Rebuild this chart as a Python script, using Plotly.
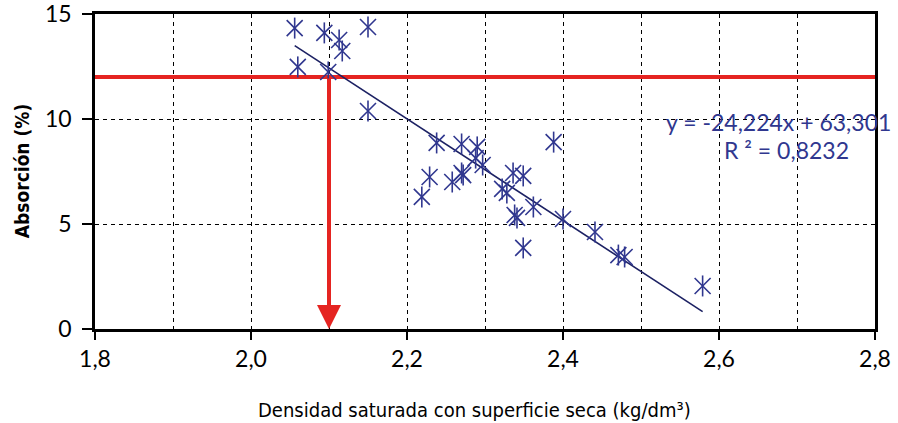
import plotly.graph_objects as go

# Data
densidad = [2.056, 2.094, 2.113, 2.117, 2.150, 2.060, 2.099, 2.150,
            2.238, 2.270, 2.290, 2.288, 2.297, 2.270, 2.272, 2.229,
            2.258, 2.219, 2.336, 2.349, 2.322, 2.328, 2.338, 2.341,
            2.362, 2.400, 2.349, 2.388, 2.441, 2.471, 2.479, 2.579]
absorcion = [14.33, 14.10, 13.76, 13.24, 14.38, 12.48, 12.24, 10.38,
             8.86, 8.81, 8.67, 8.14, 7.81, 7.43, 7.33, 7.24,
             7.00, 6.29, 7.43, 7.29, 6.67, 6.48, 5.43, 5.29,
             5.81, 5.24, 3.86, 8.90, 4.62, 3.52, 3.43, 2.05]

slope = -24.224
intercept = 63.301
r2_text = "R ² = 0,8232"
eq_text = "y = -24,224x + 63,301"

threshold_abs = 12      # red horizontal line
read_density = 2.1      # red arrow position

x_range = [1.8, 2.8]
y_range = [0, 15]

x_title = "Densidad saturada con superficie seca (kg/dm³)"
y_title = "Absorción (%)"

marker_color = "#30378f"
line_color = "#1c2163"
red = "#e52421"
tick_font = "Lato, 'Open Sans', sans-serif"
title_font = "'Liberation Sans Narrow', 'DejaVu Sans Condensed', sans-serif"

fit_x = [min(densidad), max(densidad)]
fit_y = [slope * v + intercept for v in fit_x]

fig = go.Figure()

# red horizontal reference line
fig.add_trace(go.Scatter(x=x_range, y=[threshold_abs, threshold_abs], mode="lines",
                         line=dict(color=red, width=4), hoverinfo="skip", showlegend=False,
                         cliponaxis=False))

# trend line
fig.add_trace(go.Scatter(x=fit_x, y=fit_y, mode="lines",
                         line=dict(color=line_color, width=1.6), showlegend=False))

# asterisk markers (X + vertical stroke)
fig.add_trace(go.Scatter(x=densidad, y=absorcion, mode="markers",
                         marker=dict(symbol="x-thin-open", size=16, color=marker_color,
                                     line=dict(color=marker_color, width=1.6)),
                         showlegend=False, cliponaxis=False))
fig.add_trace(go.Scatter(x=densidad, y=absorcion, mode="markers",
                         marker=dict(symbol="line-ns-open", size=15, color=marker_color,
                                     line=dict(color=marker_color, width=1.6)),
                         showlegend=False, cliponaxis=False))

# red arrow down to x axis
fig.add_annotation(x=read_density, y=y_range[0], ax=read_density, ay=threshold_abs,
                   xref="x", yref="y", axref="x", ayref="y", text="",
                   showarrow=True, arrowhead=2, arrowsize=1.2, arrowwidth=4,
                   arrowcolor=red, standoff=0)

# equation text
fig.add_annotation(x=2.676, y=9.86, xref="x", yref="y", text=eq_text, showarrow=False,
                   font=dict(family=tick_font, size=23, color=marker_color))
fig.add_annotation(x=2.687, y=8.52, xref="x", yref="y", text=r2_text, showarrow=False,
                   font=dict(family=tick_font, size=23, color=marker_color))

# axis titles
fig.add_annotation(x=0.487, y=-0.257, xref="paper", yref="paper", text=x_title,
                   showarrow=False, xanchor="center", yanchor="middle",
                   font=dict(family=title_font, size=20, color="black"))
fig.add_annotation(x=-0.094, y=0.5, xref="paper", yref="paper", text="<b>" + y_title + "</b>",
                   showarrow=False, xanchor="center", yanchor="middle", textangle=-90,
                   font=dict(family=title_font, size=19, color="black"))

grid_dash = "4px,4px"
fig.update_layout(
    width=898, height=423,
    margin=dict(l=95, r=23, t=14, b=94, autoexpand=False),
    paper_bgcolor="white", plot_bgcolor="white",
    separators=", ",
    showlegend=False,
    xaxis=dict(range=x_range, tick0=1.8, dtick=0.2, tickformat=".1f",
               ticks="outside", ticklen=8, tickwidth=1.5, tickcolor="black",
               showline=True, linewidth=2.5, linecolor="black", mirror=True,
               showgrid=True, gridcolor="black", gridwidth=1, griddash=grid_dash,
               minor=dict(tick0=1.8, dtick=0.1, showgrid=True, gridcolor="black",
                          gridwidth=1, griddash=grid_dash),
               zeroline=False, automargin=False, ticklabeloverflow="allow",
               tickfont=dict(family=tick_font, size=23, color="black")),
    yaxis=dict(range=y_range, tick0=0, dtick=5,
               ticks="outside", ticklen=10, tickwidth=1.5, tickcolor="black",
               showline=True, linewidth=2.5, linecolor="black", mirror=True,
               showgrid=True, gridcolor="black", gridwidth=1, griddash=grid_dash,
               zeroline=False, ticklabelstandoff=6, automargin=False,
               ticklabeloverflow="allow",
               tickfont=dict(family=tick_font, size=23, color="black")),
)

fig.write_html("out.html")
